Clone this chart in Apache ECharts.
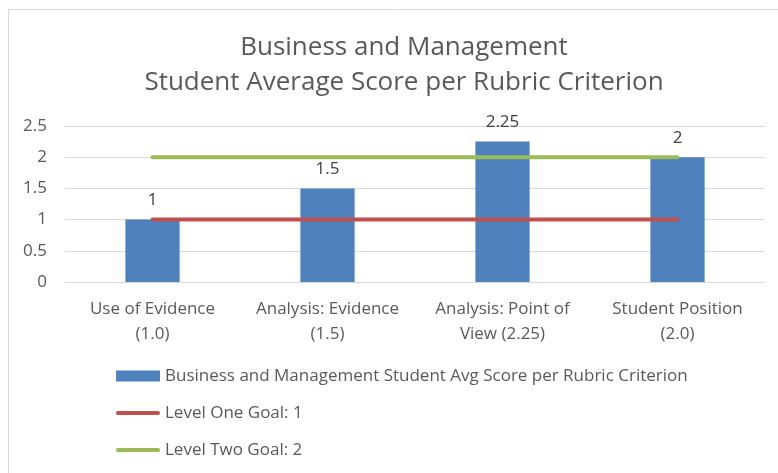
<!DOCTYPE html>
<html>
<head>
<meta charset="utf-8">
<script src="https://cdn.jsdelivr.net/npm/echarts@6/dist/echarts.min.js"></script>
<style>
  html, body { margin:0; padding:0; background:#fff; }
  #chart { width:778px; height:473px; }
</style>
</head>
<body>
<div id="chart"></div>
<script>
// categories + values
const categories = ['Use of Evidence\n(1.0)', 'Analysis: Evidence\n(1.5)', 'Analysis: Point of\nView (2.25)', 'Student Position\n(2.0)'];
const avgScores = [1, 1.5, 2.25, 2];
const levelOne = [1, 1, 1, 1];
const levelTwo = [2, 2, 2, 2];
const yTicks = [0, 0.5, 1, 1.5, 2, 2.5];

const barName = 'Business and Management Student Avg Score per Rubric Criterion';
const font = 'Open Sans';
// thin rounded bar used as the legend icon of the goal lines
const lineIcon = 'path://M2,0L44,0A2,2,0,0,1,44,4L2,4A2,2,0,0,1,2,0Z';

const chart = echarts.init(document.getElementById('chart'));
const option = {
  animation:false,
  textStyle:{ fontFamily:font },
  graphic:[
    // chart frame (excel chart area border)
    { type:'rect', shape:{ x:8.5, y:9.5, width:800, height:500 }, style:{ fill:'none', stroke:'#d9d9d9', lineWidth:1 }, z:-1 }
  ],
  title:{
    text:'Business and Management\nStudent Average Score per Rubric Criterion',
    left:399, top:25, textAlign:'center',
    textStyle:{ fontFamily:font, fontSize:26, fontWeight:'normal', color:'#595959', lineHeight:35 }
  },
  legend:{
    orient:'vertical', left:116, top:366, padding:0, itemGap:17, itemWidth:44, itemHeight:11,
    textStyle:{ fontFamily:font, fontSize:17, lineHeight:20, color:'#595959' },
    data:[
      { name:barName, icon:'rect' },
      { name:'Level One Goal: 1', icon:lineIcon },
      { name:'Level Two Goal: 2', icon:lineIcon }
    ]
  },
  grid:{ left:65, right:13, top:126, height:156 },
  xAxis:{
    type:'category', data:categories,
    axisLine:{ lineStyle:{ color:'#d9d9d9' } },
    axisTick:{ show:false },
    axisLabel:{ color:'#595959', fontSize:17, lineHeight:25, margin:15, interval:0 }
  },
  yAxis:{
    type:'value', min:yTicks[0], max:yTicks[yTicks.length-1], interval:0.5,
    axisLine:{ show:false }, axisTick:{ show:false },
    splitLine:{ lineStyle:{ color:'#d9d9d9' } },
    axisLabel:{ color:'#595959', fontSize:17, margin:18 }
  },
  series:[
    {
      name:barName, type:'bar', data:avgScores, barWidth:'31%',
      itemStyle:{ color:'#4f81bd' },
      label:{ show:true, position:'top', distance:11, color:'#404040', fontSize:17 }
    },
    {
      name:'Level One Goal: 1', type:'line', data:levelOne, symbol:'none', z:5,
      lineStyle:{ color:'#c0504d', width:4, cap:'round' }, itemStyle:{ color:'#c0504d' }
    },
    {
      name:'Level Two Goal: 2', type:'line', data:levelTwo, symbol:'none', z:5,
      lineStyle:{ color:'#9bbb59', width:4, cap:'round' }, itemStyle:{ color:'#9bbb59' }
    }
  ]
};
chart.setOption(option);
</script>
</body>
</html>
